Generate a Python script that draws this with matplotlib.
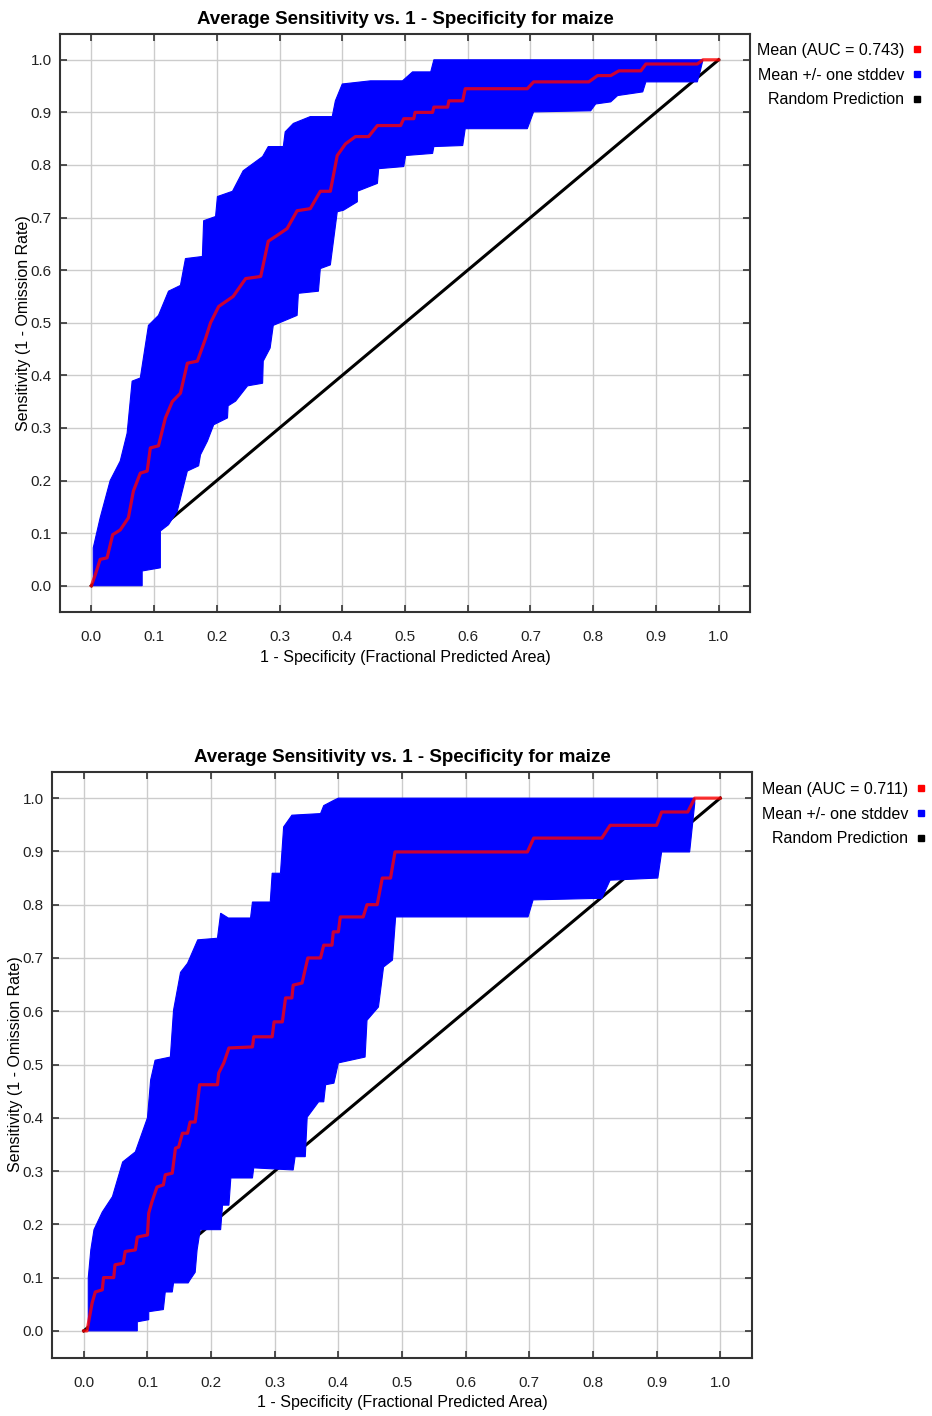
import matplotlib
matplotlib.use("Agg")
import matplotlib.pyplot as plt
from matplotlib.lines import Line2D

plt.rcParams["font.family"] = ["Liberation Sans Narrow", "Liberation Sans", "DejaVu Sans"]

TITLE = "Average Sensitivity vs. 1 - Specificity for maize"
XLABEL = "1 - Specificity (Fractional Predicted Area)"
YLABEL = "Sensitivity (1 - Omission Rate)"
TICKS = [0.0, 0.1, 0.2, 0.3, 0.4, 0.5, 0.6, 0.7, 0.8, 0.9, 1.0]
TICK_LABELS = ["0.0", "0.1", "0.2", "0.3", "0.4", "0.5", "0.6", "0.7", "0.8", "0.9", "1.0"]
AUC = ["0.743", "0.711"]

# panel 1: mean curve and +/- one stddev band edges
mean1_x = [0.0, 0.006, 0.014, 0.025, 0.034, 0.046, 0.059, 0.067, 0.078, 0.089,
           0.094, 0.107, 0.118, 0.129, 0.142, 0.153, 0.169, 0.182, 0.190, 0.203,
           0.226, 0.246, 0.270, 0.282, 0.296, 0.312, 0.328, 0.349, 0.365, 0.381,
           0.392, 0.405, 0.421, 0.442, 0.456, 0.493, 0.498, 0.514, 0.516, 0.544,
           0.546, 0.568, 0.570, 0.592, 0.596, 0.695, 0.705, 0.793, 0.807, 0.828,
           0.841, 0.876, 0.884, 0.966, 0.975, 1.0]
mean1_y = [0.0, 0.02, 0.05, 0.053, 0.097, 0.106, 0.129, 0.18, 0.214, 0.218,
           0.262, 0.266, 0.319, 0.35, 0.366, 0.423, 0.427, 0.47, 0.50, 0.531,
           0.55, 0.584, 0.588, 0.655, 0.666, 0.679, 0.713, 0.717, 0.75, 0.75,
           0.818, 0.84, 0.854, 0.854, 0.875, 0.875, 0.888, 0.888, 0.90, 0.90,
           0.91, 0.91, 0.922, 0.922, 0.945, 0.945, 0.958, 0.958, 0.97, 0.97,
           0.979, 0.979, 0.992, 0.992, 1.0, 1.0]
up1_x = [0.003, 0.003, 0.014, 0.030, 0.046, 0.057, 0.065, 0.078, 0.091, 0.107,
         0.123, 0.142, 0.150, 0.177, 0.179, 0.198, 0.201, 0.225, 0.242, 0.273,
         0.282, 0.306, 0.309, 0.322, 0.349, 0.384, 0.389, 0.400, 0.445, 0.496,
         0.512, 0.541, 0.546, 0.975]
up1_y = [0.0, 0.072, 0.129, 0.200, 0.237, 0.290, 0.389, 0.395, 0.495, 0.514,
         0.560, 0.571, 0.622, 0.626, 0.694, 0.702, 0.740, 0.750, 0.789, 0.816,
         0.835, 0.835, 0.863, 0.879, 0.892, 0.892, 0.922, 0.954, 0.960, 0.960,
         0.977, 0.977, 1.0, 1.0]
lo1_x = [0.003, 0.081, 0.081, 0.110, 0.110, 0.123, 0.137, 0.153, 0.171, 0.174,
         0.185, 0.195, 0.217, 0.218, 0.230, 0.249, 0.273, 0.274, 0.285, 0.290,
         0.328, 0.330, 0.362, 0.365, 0.381, 0.392, 0.402, 0.424, 0.424, 0.456,
         0.458, 0.498, 0.501, 0.544, 0.546, 0.592, 0.596, 0.695, 0.705, 0.796,
         0.804, 0.828, 0.839, 0.879, 0.884, 0.966, 0.971, 0.975]
lo1_y = [0.0, 0.0, 0.028, 0.034, 0.104, 0.116, 0.142, 0.218, 0.228, 0.249,
         0.275, 0.306, 0.319, 0.342, 0.351, 0.380, 0.385, 0.427, 0.452, 0.495,
         0.514, 0.556, 0.560, 0.603, 0.610, 0.711, 0.714, 0.730, 0.750, 0.765,
         0.793, 0.797, 0.818, 0.822, 0.835, 0.837, 0.869, 0.869, 0.901, 0.903,
         0.916, 0.920, 0.932, 0.939, 0.958, 0.958, 0.980, 1.0]

# panel 2
mean2_x = [0.0, 0.005, 0.013, 0.018, 0.029, 0.031, 0.047, 0.049, 0.062, 0.065,
           0.081, 0.084, 0.100, 0.102, 0.107, 0.115, 0.125, 0.128, 0.139, 0.144,
           0.149, 0.155, 0.163, 0.167, 0.175, 0.182, 0.210, 0.212, 0.220, 0.228,
           0.265, 0.267, 0.296, 0.299, 0.312, 0.317, 0.327, 0.329, 0.343, 0.352,
           0.372, 0.377, 0.390, 0.392, 0.400, 0.403, 0.439, 0.445, 0.461, 0.469,
           0.482, 0.489, 0.697, 0.707, 0.814, 0.827, 0.900, 0.908, 0.949, 0.960,
           1.0]
mean2_y = [0.0, 0.0, 0.052, 0.073, 0.077, 0.100, 0.100, 0.124, 0.127, 0.149,
           0.152, 0.176, 0.180, 0.221, 0.242, 0.270, 0.274, 0.293, 0.296, 0.343,
           0.345, 0.371, 0.371, 0.392, 0.392, 0.462, 0.462, 0.484, 0.503, 0.531,
           0.533, 0.552, 0.552, 0.580, 0.580, 0.625, 0.625, 0.649, 0.653, 0.700,
           0.700, 0.724, 0.724, 0.749, 0.749, 0.777, 0.777, 0.800, 0.800, 0.850,
           0.850, 0.899, 0.899, 0.925, 0.925, 0.949, 0.949, 0.974, 0.974, 1.0,
           1.0]
up2_x = [0.007, 0.007, 0.011, 0.016, 0.029, 0.045, 0.061, 0.081, 0.100, 0.105,
         0.112, 0.136, 0.141, 0.152, 0.163, 0.179, 0.210, 0.215, 0.227, 0.262,
         0.265, 0.293, 0.296, 0.309, 0.314, 0.327, 0.372, 0.377, 0.393, 0.40,
         0.960]
up2_y = [0.0, 0.100, 0.152, 0.190, 0.223, 0.252, 0.317, 0.336, 0.400, 0.471,
         0.508, 0.514, 0.602, 0.673, 0.690, 0.734, 0.737, 0.784, 0.775, 0.775,
         0.805, 0.805, 0.859, 0.859, 0.946, 0.968, 0.971, 0.986, 0.996, 1.0,
         1.0]
lo2_x = [0.007, 0.084, 0.084, 0.102, 0.102, 0.125, 0.125, 0.128, 0.139, 0.141,
         0.164, 0.167, 0.175, 0.178, 0.183, 0.215, 0.218, 0.228, 0.231, 0.265,
         0.267, 0.329, 0.332, 0.348, 0.351, 0.369, 0.377, 0.380, 0.393, 0.400,
         0.442, 0.445, 0.463, 0.471, 0.485, 0.490, 0.698, 0.706, 0.814, 0.827,
         0.902, 0.908, 0.952, 0.960, 0.960]
lo2_y = [0.0, 0.0, 0.017, 0.021, 0.036, 0.040, 0.040, 0.073, 0.073, 0.090,
         0.090, 0.096, 0.110, 0.152, 0.190, 0.190, 0.236, 0.236, 0.287, 0.287,
         0.306, 0.302, 0.327, 0.327, 0.401, 0.430, 0.430, 0.462, 0.465, 0.503,
         0.514, 0.583, 0.608, 0.683, 0.696, 0.777, 0.777, 0.809, 0.812, 0.846,
         0.850, 0.899, 0.899, 0.990, 1.0]

W, H = 932, 1416
fig = plt.figure(figsize=(W / 100, H / 100), dpi=100)


def px_rect(left, top, right, bottom):
    return [left / W, 1 - bottom / H, (right - left) / W, (bottom - top) / H]


def draw_panel(rect, mx, my, ux, uy, lx, ly, auc, leg_anchor):
    ax = fig.add_axes(rect)
    ax.set_xlim(-0.05, 1.05)
    ax.set_ylim(-0.05, 1.05)
    ax.set_xticks(TICKS)
    ax.set_xticklabels(TICK_LABELS)
    ax.set_yticks(TICKS)
    ax.set_yticklabels(TICK_LABELS)
    ax.grid(True, color="#cccccc", linewidth=1.0)
    ax.set_axisbelow(True)
    ax.tick_params(direction="in", length=5, width=1.2, color="#333333",
                   labelcolor="#222222", top=True, right=True, labelsize=11)
    ax.tick_params(axis="x", pad=13)
    ax.tick_params(axis="y", pad=6)
    for s in ax.spines.values():
        s.set_color("#333333")
        s.set_linewidth(1.5)

    ax.plot([0, 1], [0, 1], color="black", linewidth=2.2, zorder=2)
    # band polygon: upper edge forward, lower edge back
    px = list(ux) + list(reversed(lx))
    py = list(uy) + list(reversed(ly))
    ax.fill(px, py, color="#0000ff", linewidth=0.8, edgecolor="#0000ff", zorder=3)
    ax.plot(mx, my, color="red", alpha=0.8, linewidth=2.3, zorder=4)

    ax.set_title(TITLE, fontsize=13.5, fontweight="bold", pad=7)
    ax.set_xlabel(XLABEL, fontsize=11.5, labelpad=4)
    ax.set_ylabel(YLABEL, fontsize=11.5, labelpad=0)

    handles = [
        Line2D([], [], linestyle="none", marker="s", markersize=4.5, color="red"),
        Line2D([], [], linestyle="none", marker="s", markersize=4.5, color="#0000ff"),
        Line2D([], [], linestyle="none", marker="s", markersize=4.5, color="black"),
    ]
    labels = [f"Mean (AUC = {auc})", "Mean +/- one stddev", "Random Prediction"]
    ax.legend(handles, labels, loc="upper right",
              bbox_to_anchor=(leg_anchor[0] / W, 1 - leg_anchor[1] / H),
              bbox_transform=fig.transFigure, markerfirst=False, frameon=False,
              fontsize=11.5, handlelength=0.6, handletextpad=0.5,
              labelspacing=0.6, borderpad=0, borderaxespad=0)
    return ax


draw_panel(px_rect(60, 33.5, 750, 612), mean1_x, mean1_y, up1_x, up1_y,
           lo1_x, lo1_y, AUC[0], (922, 43))
draw_panel(px_rect(52, 771.5, 752, 1357.5), mean2_x, mean2_y, up2_x, up2_y,
           lo2_x, lo2_y, AUC[1], (926, 782))

fig.savefig("out.png", dpi=100)
